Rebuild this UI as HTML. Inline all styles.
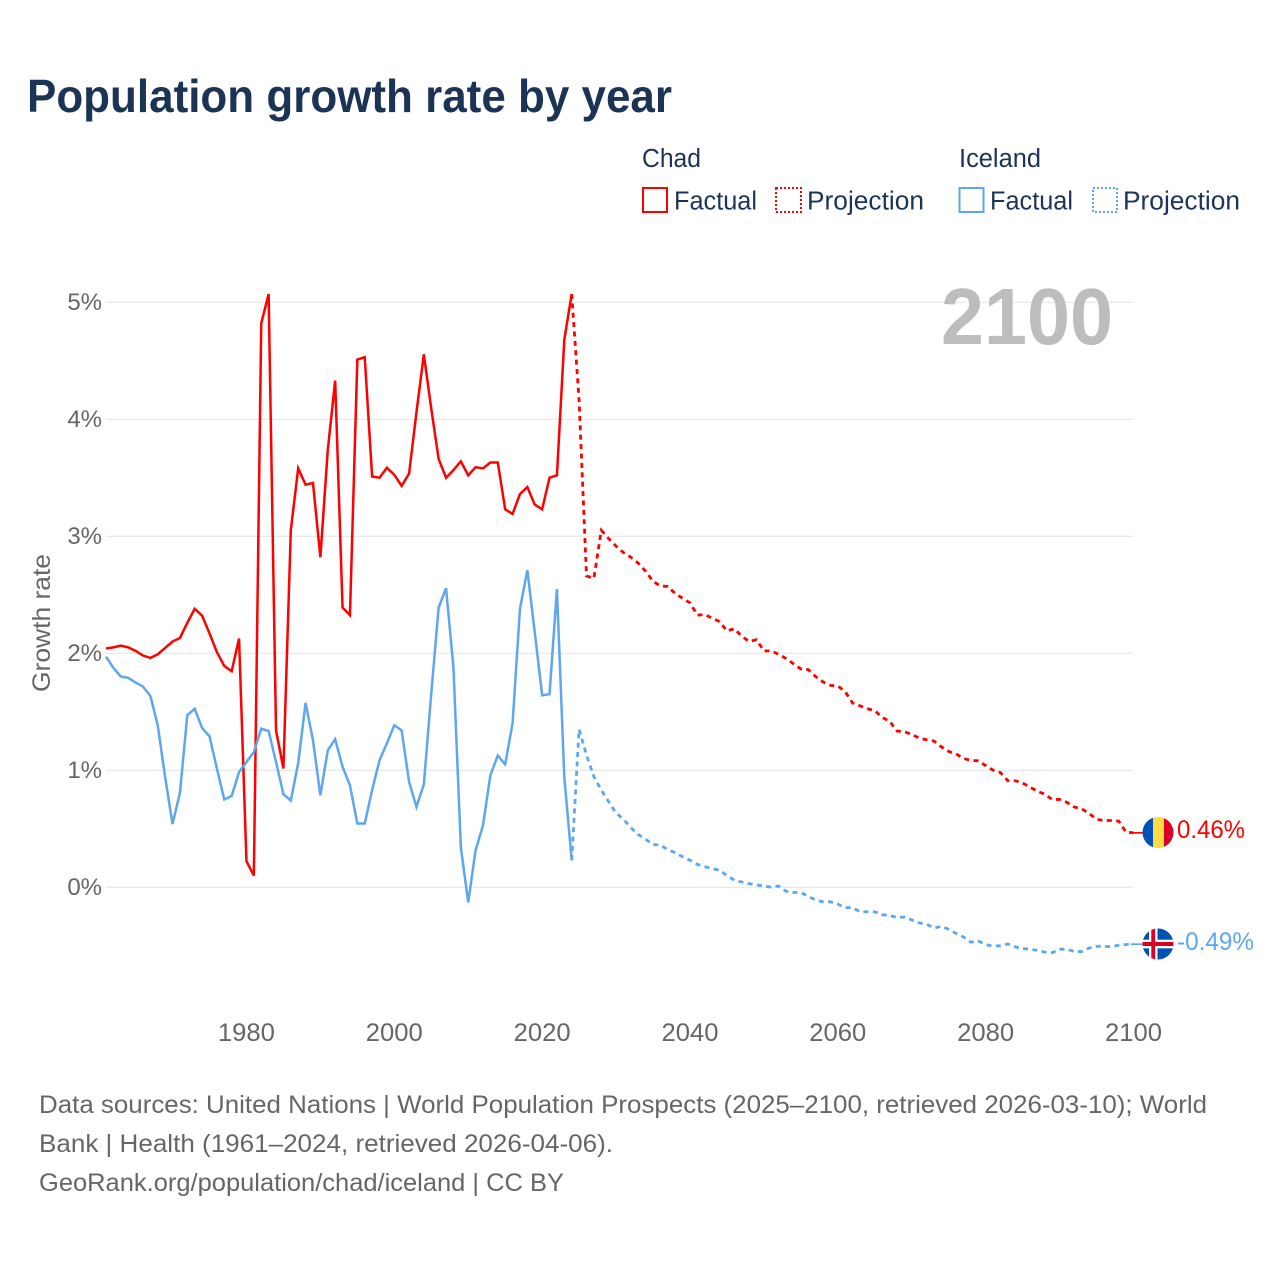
<!DOCTYPE html>
<html lang="en">
<head>
<meta charset="utf-8">
<title>Population growth rate by year</title>
<style>
html,body{margin:0;padding:0;background:#fff;}
svg{display:block;font-family:"Liberation Sans",sans-serif;}
</style>
</head>
<body>
<svg id="chart" xmlns="http://www.w3.org/2000/svg" width="1280" height="1280" viewBox="0 0 1280 1280">
  <text x="27" y="112" font-size="46" font-weight="700" fill="#1b3455" textLength="645" lengthAdjust="spacingAndGlyphs">Population growth rate by year</text>

  <g font-size="25.5" fill="#1b3455">
    <text x="642" y="167" textLength="59" lengthAdjust="spacingAndGlyphs">Chad</text>
    <text x="959" y="167" textLength="82" lengthAdjust="spacingAndGlyphs">Iceland</text>
    <g>
      <rect x="643" y="188" width="24" height="24" fill="none" stroke="#ff0000" stroke-width="2"/>
      <text x="674" y="209.5" textLength="83" lengthAdjust="spacingAndGlyphs">Factual</text>
    </g>
    <g>
      <rect x="776" y="188" width="25" height="24" fill="none" stroke="#ff0000" stroke-width="2" stroke-dasharray="2 2"/>
      <text x="807" y="209.5" textLength="117" lengthAdjust="spacingAndGlyphs">Projection</text>
    </g>
    <g>
      <rect x="959.5" y="188" width="24" height="24" fill="none" stroke="#5ea6ee" stroke-width="2"/>
      <text x="990" y="209.5" textLength="83" lengthAdjust="spacingAndGlyphs">Factual</text>
    </g>
    <g>
      <rect x="1093" y="188" width="24" height="24" fill="none" stroke="#5ea6ee" stroke-width="2" stroke-dasharray="2 2"/>
      <text x="1123" y="209.5" textLength="117" lengthAdjust="spacingAndGlyphs">Projection</text>
    </g>
  </g>

  <g id="grid"></g>
  <g id="yaxis"></g>
  <g id="xaxis"></g>

  <text transform="translate(50 623) rotate(-90)" text-anchor="middle" font-size="25" fill="#666666" textLength="138" lengthAdjust="spacingAndGlyphs">Growth rate</text>

  <text x="941" y="344" font-size="80" font-weight="700" fill="#bdbdbd" textLength="172" lengthAdjust="spacingAndGlyphs">2100</text>

  <g id="series"></g>

  <defs>
    <clipPath id="clip-chad"><circle cx="1158" cy="832.5" r="15.5"/></clipPath>
    <clipPath id="clip-iceland"><circle cx="1158" cy="944" r="15.5"/></clipPath>
  </defs>

  <g clip-path="url(#clip-chad)">
    <rect x="1142" y="816" width="11" height="33" fill="#0052b4"/>
    <rect x="1153" y="816" width="11" height="33" fill="#ffda44"/>
    <rect x="1164" y="816" width="11" height="33" fill="#d80027"/>
  </g>
  <g clip-path="url(#clip-iceland)">
    <rect x="1142" y="928" width="33" height="33" fill="#0052b4"/>
    <rect x="1149" y="928" width="8.5" height="33" fill="#ffffff"/>
    <rect x="1142" y="939.7" width="33" height="8.6" fill="#ffffff"/>
    <rect x="1151.3" y="928" width="3.9" height="33" fill="#d80027"/>
    <rect x="1142" y="942" width="33" height="4" fill="#d80027"/>
  </g>

  <text x="1177" y="838" font-size="25" fill="#ff0000" textLength="68" lengthAdjust="spacingAndGlyphs">0.46%</text>
  <text x="1177" y="950" font-size="25" fill="#5ea6ee" textLength="77" lengthAdjust="spacingAndGlyphs">-0.49%</text>

  <g font-size="25" fill="#666666">
    <text x="39" y="1113" textLength="1168" lengthAdjust="spacingAndGlyphs">Data sources: United Nations | World Population Prospects (2025–2100, retrieved 2026-03-10); World</text>
    <text x="39" y="1152" textLength="574" lengthAdjust="spacingAndGlyphs">Bank | Health (1961–2024, retrieved 2026-04-06).</text>
    <text x="39" y="1191" textLength="525" lengthAdjust="spacingAndGlyphs">GeoRank.org/population/chad/iceland | CC BY</text>
  </g>
</svg>

<script>
const factualStartYear = 1961;
const projectionStartYear = 2024;
const xTickYears = [1980, 2000, 2020, 2040, 2060, 2080, 2100];
const yTickValues = [0, 1, 2, 3, 4, 5];
const chadFactual = [2.04,2.05,2.065,2.05,2.02,1.98,1.96,1.99,2.045,2.10,2.13,2.26,2.38,2.32,2.17,2.01,1.89,1.846,2.125,0.222,0.10,4.82,5.07,1.34,1.015,3.05,3.58,3.44,3.455,2.82,3.735,4.33,2.39,2.325,4.51,4.53,3.51,3.50,3.585,3.525,3.43,3.535,4.06,4.555,4.09,3.66,3.50,3.565,3.64,3.52,3.59,3.58,3.63,3.63,3.23,3.19,3.36,3.42,3.27,3.23,3.50,3.52,4.68,5.07];
const chadProjection = [5.07,4.16,2.66,2.64,3.05,2.98,2.915,2.86,2.82,2.77,2.70,2.615,2.575,2.57,2.51,2.47,2.43,2.325,2.33,2.30,2.27,2.19,2.21,2.145,2.10,2.115,2.02,2.02,1.99,1.955,1.91,1.865,1.86,1.80,1.755,1.725,1.72,1.67,1.575,1.55,1.525,1.51,1.45,1.42,1.335,1.33,1.305,1.275,1.26,1.25,1.20,1.16,1.14,1.10,1.085,1.08,1.04,1.00,0.98,0.91,0.91,0.89,0.855,0.82,0.795,0.75,0.75,0.725,0.685,0.67,0.63,0.58,0.57,0.57,0.565,0.47,0.465];
const icelandFactual = [1.97,1.875,1.80,1.79,1.75,1.715,1.635,1.385,0.94,0.54,0.806,1.47,1.525,1.36,1.29,1.015,0.75,0.78,0.985,1.07,1.155,1.355,1.335,1.07,0.795,0.74,1.06,1.575,1.255,0.785,1.17,1.265,1.03,0.87,0.545,0.545,0.83,1.085,1.23,1.385,1.34,0.90,0.686,0.88,1.655,2.39,2.555,1.88,0.345,-0.13,0.316,0.53,0.957,1.125,1.05,1.40,2.38,2.71,2.18,1.64,1.65,2.547,0.94,0.23];
const icelandProjection = [0.23,1.35,1.13,0.945,0.83,0.73,0.635,0.58,0.51,0.45,0.41,0.365,0.36,0.32,0.295,0.26,0.23,0.195,0.175,0.16,0.145,0.10,0.06,0.045,0.03,0.02,0.01,0.0,0.01,-0.035,-0.045,-0.045,-0.08,-0.11,-0.125,-0.125,-0.145,-0.175,-0.175,-0.21,-0.21,-0.21,-0.235,-0.24,-0.26,-0.255,-0.28,-0.305,-0.315,-0.35,-0.335,-0.36,-0.395,-0.425,-0.47,-0.46,-0.49,-0.505,-0.50,-0.485,-0.51,-0.525,-0.53,-0.54,-0.555,-0.56,-0.53,-0.53,-0.55,-0.55,-0.52,-0.505,-0.505,-0.51,-0.495,-0.49,-0.487];

const NS = 'http://www.w3.org/2000/svg';
const RED = '#ff0000';
const BLUE = '#5ea6ee';
const FLAG_CENTER_X = 1158;

function xScale(year) { return 106 + (year - 1961) * (1133.5 - 106) / (2100 - 1961); }
function yScale(value) { return 887.2 - value * 117; }

function lineFrom(values, startYear) {
  return values.map(function (v, i) {
    return (i ? 'L' : 'M') + xScale(startYear + i).toFixed(2) + ' ' + yScale(v).toFixed(2);
  }).join(' ');
}

const gridGroup = document.getElementById('grid');
const yAxisGroup = document.getElementById('yaxis');
yTickValues.forEach(function (v) {
  const line = document.createElementNS(NS, 'line');
  
  
  line.setAttribute('x1', xScale(1961));
  line.setAttribute('x2', xScale(2100));
  line.setAttribute('y1', yScale(v));
  line.setAttribute('y2', yScale(v));
  line.setAttribute('stroke', '#e4e4e4');
  line.setAttribute('stroke-width', '1');
  gridGroup.appendChild(line);

  const label = document.createElementNS(NS, 'text');
  
  
  label.setAttribute('x', 102);
  label.setAttribute('y', yScale(v) + 8);
  label.setAttribute('text-anchor', 'end');
  label.setAttribute('font-size', '24');
  label.setAttribute('fill', '#666666');
  label.textContent = v + '%';
  yAxisGroup.appendChild(label);
});

const xAxisGroup = document.getElementById('xaxis');
xTickYears.forEach(function (year) {
  const label = document.createElementNS(NS, 'text');
  
  
  label.setAttribute('x', xScale(year));
  label.setAttribute('y', 1041);
  label.setAttribute('text-anchor', 'middle');
  label.setAttribute('font-size', '25');
  label.setAttribute('fill', '#666666');
  label.setAttribute('textLength', '57');
  label.setAttribute('lengthAdjust', 'spacingAndGlyphs');
  label.textContent = year;
  xAxisGroup.appendChild(label);
});

const seriesGroup = document.getElementById('series');

function addLine(values, startYear, color, dashed, name) {
  const path = document.createElementNS(NS, 'path');
  
  
  path.setAttribute('d', lineFrom(values, startYear));
  path.setAttribute('fill', 'none');
  path.setAttribute('stroke', color);
  path.setAttribute('stroke-width', dashed ? '2.8' : '2.5');
  path.setAttribute('stroke-linejoin', 'miter');
  if (dashed) {
    path.setAttribute('stroke-dasharray', '5 4.4');
  }
  seriesGroup.appendChild(path);
}

function addConnector(values, startYear, color, name) {
  const last = values[values.length - 1];
  const connector = document.createElementNS(NS, 'line');
  
  
  connector.setAttribute('x1', xScale(startYear + values.length - 1) - 3);
  connector.setAttribute('x2', FLAG_CENTER_X);
  connector.setAttribute('y1', yScale(last));
  connector.setAttribute('y2', yScale(last));
  connector.setAttribute('stroke', color);
  connector.setAttribute('stroke-width', '1.6');
  seriesGroup.appendChild(connector);
}

addLine(chadProjection, projectionStartYear, RED, true, 'chad-projection-line');
addLine(icelandProjection, projectionStartYear, BLUE, true, 'iceland-projection-line');
addLine(chadFactual, factualStartYear, RED, false, 'chad-factual-line');
addLine(icelandFactual, factualStartYear, BLUE, false, 'iceland-factual-line');
addConnector(chadProjection, projectionStartYear, RED, 'chad-flag-connector');
addConnector(icelandProjection, projectionStartYear, BLUE, 'iceland-flag-connector');
</script>
</body>
</html>
